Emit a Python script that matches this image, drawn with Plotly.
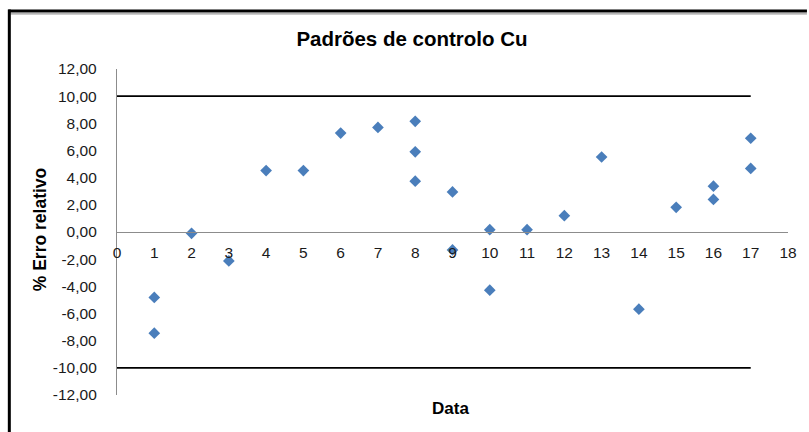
import plotly.graph_objects as go

# Control standard results: sample date index and relative error (%)
dates = [1, 1, 2, 3, 4, 5, 6, 7, 8, 8, 8, 9, 9, 10, 10, 11, 12, 13, 14, 15, 16, 16, 17, 17]
rel_error = [-4.82, -7.45, -0.10, -2.13, 4.52, 4.52, 7.28, 7.70, 8.15, 5.90, 3.74,
             2.95, -1.32, 0.17, -4.28, 0.17, 1.20, 5.52, -5.68, 1.82, 3.37, 2.40, 6.90, 4.68]

# Control limits (±10 %) drawn across dates 0..17
limit_values = [10, -10]
limit_span = [0, 17]

x_ticks = list(range(0, 19))
y_ticks = [12, 10, 8, 6, 4, 2, 0, -2, -4, -6, -8, -10, -12]
y_tick_text = [f"{v:.2f}".replace(".", ",") for v in y_ticks]

W, H = 809, 432
ML, MR, MT, MB = 117, 19, 69, 37
PW, PH = W - ML - MR, H - MT - MB


def px_x(px):
    return (px - ML) / PW


def px_y(py):
    return (H - MB - py) / PH


fig = go.Figure()

for lv in limit_values:
    fig.add_trace(go.Scatter(
        x=limit_span, y=[lv, lv], mode="lines",
        line=dict(color="#000000", width=1.6),
        hoverinfo="skip", showlegend=False,
    ))

fig.add_trace(go.Scatter(
    x=dates, y=rel_error, mode="markers",
    marker=dict(symbol="diamond", size=9, color="#4A7EBB",
                line=dict(width=0)),
    showlegend=False,
))

font_family = "Liberation Sans, Arial, sans-serif"

fig.update_layout(
    width=W, height=H,
    margin=dict(l=ML, r=MR, t=MT, b=MB),
    paper_bgcolor="white", plot_bgcolor="white",
    font=dict(family=font_family, color="#1A1A1A", size=15),
    title=dict(text="<b>Padrões de controlo Cu</b>", x=412 / W,
               xanchor="center", y=1 - 39 / H, yanchor="middle",
               font=dict(size=20.5, color="#000000", family=font_family)),
    xaxis=dict(
        range=[0, 18], tickvals=x_ticks, ticktext=[str(t) for t in x_ticks],
        anchor="free", position=0.5,
        showline=True, linecolor="#8C8C8C", linewidth=1.3,
        showgrid=False, zeroline=False, ticks="", ticklabelstandoff=6,
        tickfont=dict(size=15.5, color="#1A1A1A"),
    ),
    yaxis=dict(
        range=[-12, 12], tickvals=y_ticks, ticktext=y_tick_text,
        showline=True, linecolor="#8C8C8C", linewidth=1.3,
        showgrid=False, zeroline=False, ticks="", ticklabelstandoff=16,
        tickfont=dict(size=15.5, color="#1A1A1A"),
    ),
    shapes=[
        # outer frame: double line on top, thick line on the left
        dict(type="line", xref="paper", yref="paper",
             x0=px_x(8), x1=px_x(W), y0=px_y(11), y1=px_y(11),
             line=dict(color="#000000", width=3)),
        dict(type="line", xref="paper", yref="paper",
             x0=px_x(10), x1=px_x(W), y0=px_y(13.8), y1=px_y(13.8),
             line=dict(color="#9A9A9A", width=1.2)),
        dict(type="line", xref="paper", yref="paper",
             x0=px_x(9), x1=px_x(9), y0=px_y(9.6), y1=px_y(H),
             line=dict(color="#000000", width=3)),
    ],
    annotations=[
        dict(text="<b>Data</b>", xref="paper", yref="paper",
             x=px_x(451), y=px_y(408), xanchor="center", yanchor="middle",
             showarrow=False, font=dict(size=17, color="#000000")),
        dict(text="<b>% Erro relativo</b>", xref="paper", yref="paper",
             x=px_x(40), y=px_y(229), xanchor="center", yanchor="middle",
             textangle=-90, showarrow=False,
             font=dict(size=17.5, color="#000000")),
    ],
)

fig.write_html("out.html")
